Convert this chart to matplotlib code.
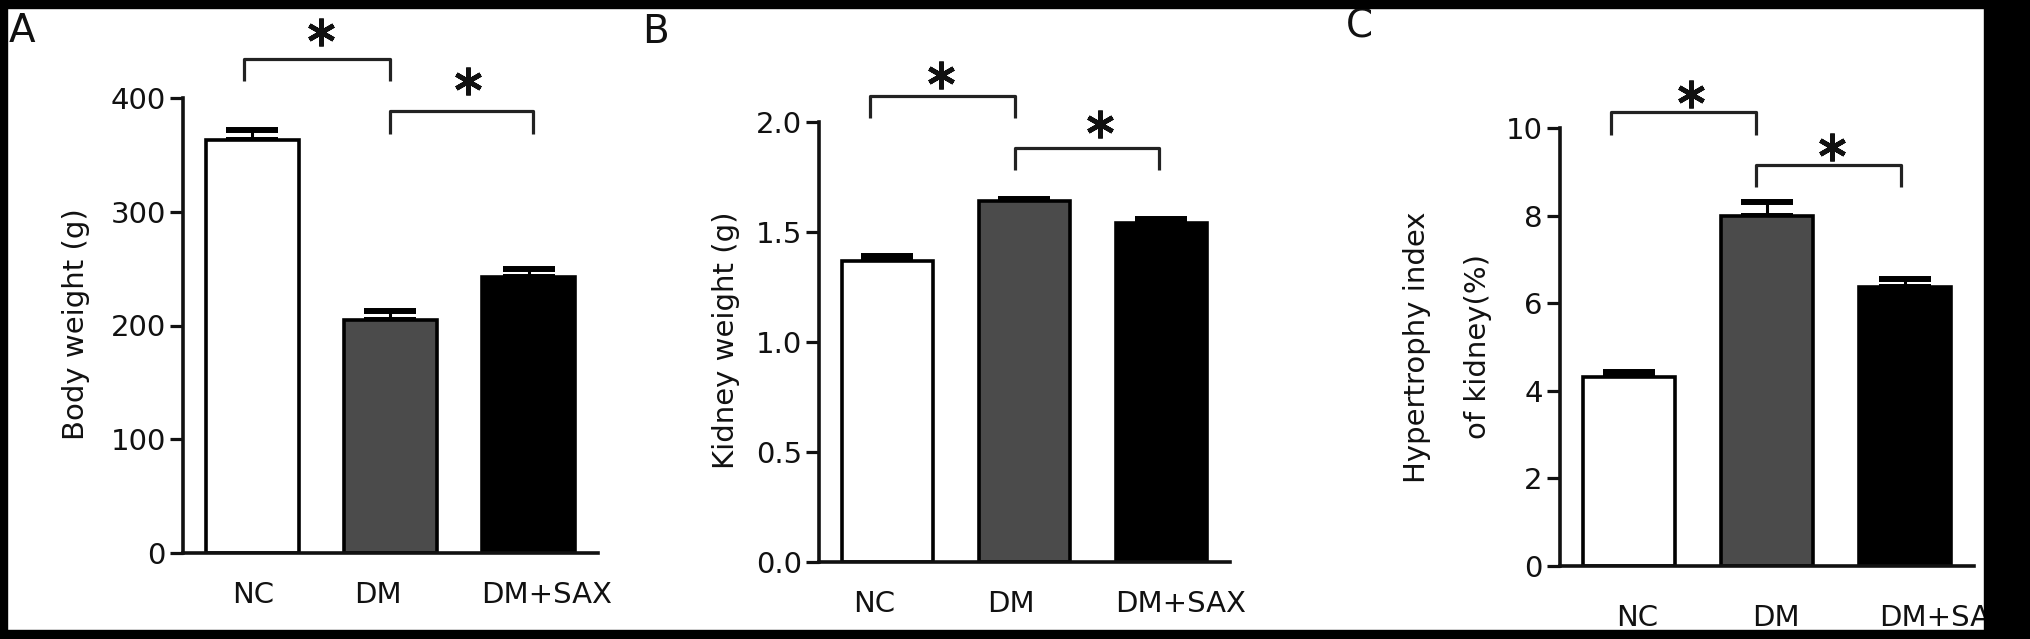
import matplotlib
matplotlib.use('Agg')
import matplotlib.pyplot as plt
from matplotlib.patches import Rectangle
from matplotlib.transforms import ScaledTranslation

plt.rcParams['font.family'] = ['DejaVu Sans']

W, H = 2031, 639

groups = ['NC', 'DM', 'DM+SAX']
colors = ['white', '#4b4b4b', 'black']

body_weight = [363, 205, 243]
body_weight_err = [9, 8, 7]

kidney_weight = [1.37, 1.64, 1.54]
kidney_weight_err = [0.02, 0.012, 0.02]

hyper_index = [4.32, 8.0, 6.38]
hyper_index_err = [0.11, 0.3, 0.17]

FS = 21


def px_rect(left, top, right, bottom):
    return [left / W, 1 - bottom / H, (right - left) / W, (bottom - top) / H]


def fxy(x, y):
    return x / W, 1 - y / H


def bracket(ax, x1, x2, top, leg):
    ax.plot([x1, x1, x2, x2], [leg, top, top, leg], color='#222222', lw=2.3,
            clip_on=False, solid_capstyle='butt')


def star(ax, x, y):
    ax.plot([x], [y], marker=(6, 2, 0), ms=20, mew=3.4, color='#111111',
            clip_on=False)


def draw_panel(ax, values, errs, ymax, yticks, yticklabels, xpad, xshift):
    x = range(len(groups))
    ax.bar(x, values, width=0.67, color=colors, edgecolor='black',
           linewidth=2.6, zorder=2)
    ax.errorbar(x, values, yerr=[[0] * len(errs), errs], fmt='none',
                ecolor='black', elinewidth=2.2, capsize=19, capthick=4.3,
                zorder=1)
    ax.set_xlim(-0.5, 2.5)
    ax.set_ylim(0, ymax)
    ax.set_yticks(yticks)
    ax.set_yticklabels(yticklabels)
    ax.set_xticks(list(x))
    ax.set_xticklabels(groups)
    ax.spines['top'].set_visible(False)
    ax.spines['right'].set_visible(False)
    for s in ['left', 'bottom']:
        ax.spines[s].set_linewidth(2.6)
        ax.spines[s].set_color('#111111')
    ax.tick_params(axis='y', length=9.4, width=2.3, pad=3, labelsize=FS,
                   colors='#111111')
    ax.tick_params(axis='x', length=0, pad=xpad, labelsize=FS,
                   colors='#111111')
    # the group labels in the scan sit a little off the bar centres
    for lab, dx in zip(ax.get_xticklabels(), xshift):
        lab.set_transform(lab.get_transform() +
                          ScaledTranslation(dx / 100, 0, fig.dpi_scale_trans))


fig = plt.figure(figsize=(W / 100, H / 100), dpi=100)
fig.patch.set_facecolor('white')

# A
axA = fig.add_axes(px_rect(183, 98, 598, 553))
draw_panel(axA, body_weight, body_weight_err, 400, [0, 100, 200, 300, 400],
           ['0', '100', '200', '300', '400'], 20, [1, -13, 18])
bracket(axA, -0.06, 1.0, 434, 415)
bracket(axA, 1.0, 2.03, 389, 368)
star(axA, 0.5, 458)
star(axA, 1.56, 415)

# B
axB = fig.add_axes(px_rect(819, 122, 1230, 562))
draw_panel(axB, kidney_weight, kidney_weight_err, 2.0, [0, 0.5, 1.0, 1.5, 2.0],
           ['0.0', '0.5', '1.0', '1.5', '2.0'], 20, [-13, -14, 19])
bracket(axB, -0.13, 0.93, 2.118, 2.018)
bracket(axB, 0.93, 1.98, 1.882, 1.782)
star(axB, 0.39, 2.214)
star(axB, 1.55, 1.99)

# C
axC = fig.add_axes(px_rect(1560, 128, 1974, 566))
draw_panel(axC, hyper_index, hyper_index_err, 10, [0, 2, 4, 6, 8, 10],
           ['0', '2', '4', '6', '8', '10'], 27, [8, 9, 40])
bracket(axC, -0.13, 0.92, 10.37, 9.85)
bracket(axC, 0.92, 1.97, 9.16, 8.65)
star(axC, 0.45, 10.78)
star(axC, 1.47, 9.57)

# axis titles
fig.text(*fxy(76, 324), 'Body weight (g)', rotation=90, ha='center',
         va='center', fontsize=FS, color='#111111')
fig.text(*fxy(726, 340), 'Kidney weight (g)', rotation=90, ha='center',
         va='center', fontsize=FS, color='#111111')
fig.text(*fxy(1417, 347), 'Hypertrophy index', rotation=90, ha='center',
         va='center', fontsize=FS, color='#111111')
fig.text(*fxy(1478, 347), 'of kidney(%)', rotation=90, ha='center',
         va='center', fontsize=FS, color='#111111')

# panel letters
fig.text(*fxy(9, 42), 'A', fontsize=28, va='baseline', color='#111111')
fig.text(*fxy(642, 43), 'B', fontsize=28, va='baseline', color='#111111')
fig.text(*fxy(1346, 38), 'C', fontsize=28, va='baseline', color='#111111')

# black frame around the scanned figure
for (l, t, r, b) in [(0, 0, W, 8), (0, 0, 7, H), (1984, 0, W, H), (0, 630, W, H)]:
    fig.patches.append(Rectangle(fxy(l, b), (r - l) / W, (b - t) / H,
                                 transform=fig.transFigure, color='black',
                                 zorder=100))

fig.savefig('out.png', dpi=100, facecolor='white')
